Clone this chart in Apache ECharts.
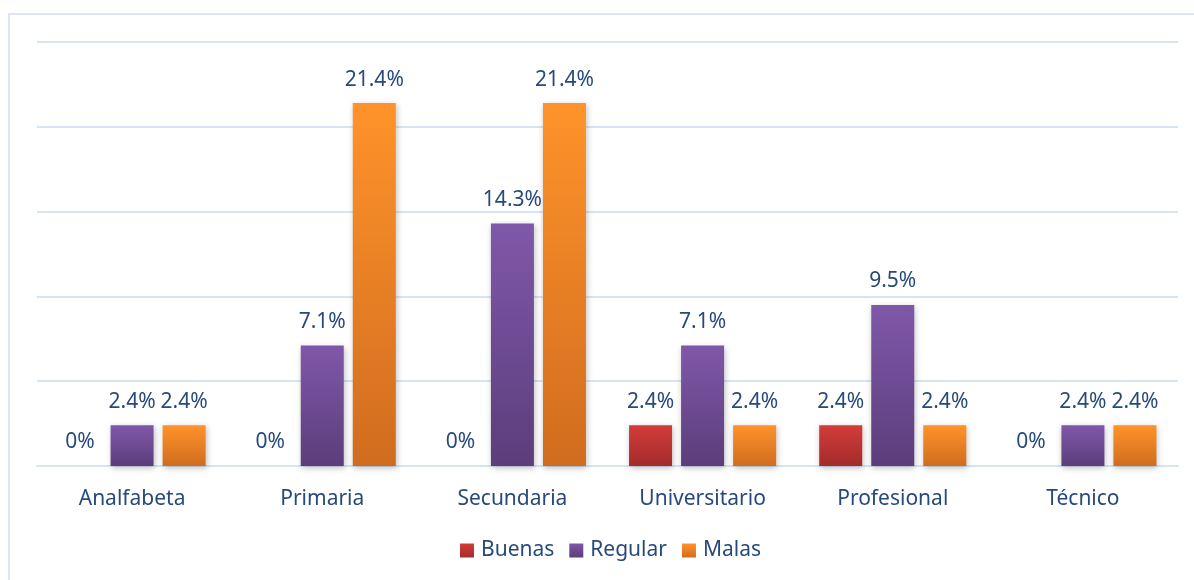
<!DOCTYPE html>
<html>
<head>
<meta charset="utf-8">
<script src="https://cdn.jsdelivr.net/npm/echarts@6/dist/echarts.min.js"></script>
<style>
html, body { margin: 0; padding: 0; background: #fff; }
#frame { position: absolute; left: 8px; top: 13px; right: 0; bottom: 0;
         border-left: 2px solid #dce6f4; border-top: 2px solid #dce6f4; }
#chart { position: absolute; left: 0; top: 0; width: 1194px; height: 580px; }
</style>
</head>
<body>
<div id="frame"></div>
<div id="chart"></div>
<script>
// datos
var categorias = ['Analfabeta', 'Primaria', 'Secundaria', 'Universitario', 'Profesional', 'Técnico'];
var buenas = [0, 0, 0, 2.4, 2.4, 0];
var regular = [2.4, 7.1, 14.3, 7.1, 9.5, 2.4];
var malas = [2.4, 21.4, 21.4, 2.4, 2.4, 2.4];

var fuente = '"Noto Sans", "Open Sans", sans-serif';
var azul = '#274a7c';

function degradado(arriba, abajo) {
    return new echarts.graphic.LinearGradient(0, 0, 0, 1, [
        {offset: 0, color: arriba},
        {offset: 1, color: abajo}
    ]);
}

function serie(nombre, datos, arriba, abajo) {
    return {
        name: nombre,
        type: 'bar',
        data: datos,
        barWidth: 43,
        barGap: '21%',
        itemStyle: {
            color: degradado(arriba, abajo),
            shadowColor: 'rgba(0,0,0,0.25)',
            shadowBlur: 6,
            shadowOffsetX: 1,
            shadowOffsetY: 2
        },
        label: {
            show: true,
            position: 'top',
            distance: 13,
            color: azul,
            fontFamily: fuente,
            fontSize: 21,
            formatter: function (p) { return p.value + '%'; }
        }
    };
}

var myChart = echarts.init(document.getElementById('chart'));
var option = {
    animation: false,
    grid: {left: 37, right: 16, top: 42, bottom: 114},
    legend: {
        bottom: 14,
        left: 455,
        itemWidth: 14,
        itemHeight: 14,
        itemGap: 15,
        icon: 'rect',
        textStyle: {color: azul, fontFamily: fuente, fontSize: 21, padding: [0, 0, 0, 2]},
        data: ['Buenas', 'Regular', 'Malas']
    },
    xAxis: {
        type: 'category',
        data: categorias,
        axisLine: {lineStyle: {color: '#d9e4f2', width: 2}},
        axisTick: {show: false},
        axisLabel: {color: azul, fontFamily: fuente, fontSize: 21, margin: 23}
    },
    yAxis: {
        type: 'value',
        min: 0,
        max: 25,
        interval: 5,
        axisLabel: {show: false},
        axisLine: {show: false},
        axisTick: {show: false},
        splitLine: {lineStyle: {color: '#d9e4f2', width: 2}}
    },
    series: [
        serie('Buenas', buenas, '#d33d3a', '#a22b2b'),
        serie('Regular', regular, '#7f58a9', '#5c3d7b'),
        serie('Malas', malas, '#ff932a', '#d06c1f')
    ]
};
myChart.setOption(option);
</script>
</body>
</html>
